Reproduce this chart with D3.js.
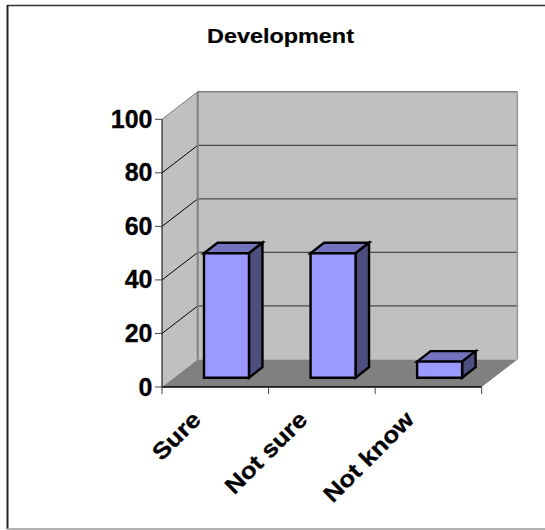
<!DOCTYPE html>
<html>
<head>
<meta charset="utf-8">
<script src="https://cdn.jsdelivr.net/npm/d3@7/dist/d3.min.js"></script>
<style>
html,body{margin:0;padding:0;background:#fff}
svg{display:block}
text{font-family:"Liberation Sans",Arial,sans-serif;font-weight:bold;fill:#000}
</style>
</head>
<body>
<svg id="chart" width="545" height="530"></svg>
<script>
const chartTitle = "Development";
const categories = ["Sure", "Not sure", "Not know"];
const values = [46.5, 46.5, 6];
const yTicks = [0, 20, 40, 60, 80, 100];

const svg = d3.select("#chart");
const frontLeft = 162, frontRight = 481.7, frontBase = 387, frontTop = 119.3;
const wallDx = 35.7, wallDy = -27.5;
const barShiftX = 11.2, barShiftY = -9.3, barDx = 13.5, barDy = -10.5;

const y = d3.scaleLinear().domain([0, 100]).range([frontBase, frontTop]);
const x = d3.scaleBand().domain(categories).range([frontLeft, frontRight])
  .paddingInner(0.578).paddingOuter(0.289);
const tickX = d3.scaleLinear().domain([0, categories.length]).range([frontLeft, frontRight]);

const poly = (pts, fill, stroke, sw) => svg.append("polygon")
  .attr("points", pts.map(p => p.join(",")).join(" "))
  .attr("fill", fill).attr("stroke", stroke || "none").attr("stroke-width", sw || 0)
  .attr("stroke-linejoin", "miter");
const line = (a, b, stroke, sw) => svg.append("line")
  .attr("x1", a[0]).attr("y1", a[1]).attr("x2", b[0]).attr("y2", b[1])
  .attr("stroke", stroke).attr("stroke-width", sw);

// Outer frame: top, left and bottom edges
line([7, 5.5], [545, 5.5], "#333", 1.5);
line([7.5, 5], [7.5, 529], "#222", 2);
line([7, 529], [545, 529], "#999", 1.5);

// Back wall, side wall and floor
poly([[frontLeft, frontBase], [frontLeft, frontTop], [frontLeft + wallDx, frontTop + wallDy], [frontLeft + wallDx, frontBase + wallDy]], "#c0c0c0");
poly([[frontLeft + wallDx, frontTop + wallDy], [frontRight + wallDx, frontTop + wallDy], [frontRight + wallDx, frontBase + wallDy], [frontLeft + wallDx, frontBase + wallDy]], "#c0c0c0");
poly([[frontLeft, frontBase], [frontRight, frontBase], [frontRight + wallDx, frontBase + wallDy], [frontLeft + wallDx, frontBase + wallDy]], "#808080");

// Gridlines across side and back walls
yTicks.filter(t => t > 0).forEach(t => {
  line([frontLeft, y(t)], [frontLeft + wallDx, y(t) + wallDy], t === 100 ? "#808080" : "#000", 1);
  line([frontLeft + wallDx, y(t) + wallDy], [frontRight + wallDx, y(t) + wallDy], t === 100 ? "#808080" : "#4d4d4d", t === 100 ? 1.5 : 1.2);
});
line([frontLeft + wallDx, frontTop + wallDy], [frontLeft + wallDx, frontBase + wallDy], "#808080", 2);
line([frontRight + wallDx, frontTop + wallDy], [frontRight + wallDx, frontBase + wallDy], "#969696", 1.5);

// Value and category axes
line([frontLeft, frontTop], [frontLeft, frontBase], "#000", 1);
line([frontLeft, frontBase], [frontRight, frontBase], "#000", 1.5);
svg.selectAll("text.ytick").data(yTicks).join("text").attr("class", "ytick")
  .attr("x", frontLeft - 9.5).attr("y", d => y(d) + 8.5)
  .attr("text-anchor", "end").attr("font-size", 25)
  .attr("stroke", "#000").attr("stroke-width", 0.3).text(d => d);
yTicks.forEach(t => line([frontLeft - 7, y(t)], [frontLeft, y(t)], "#444", 1));
d3.range(categories.length + 1).forEach(i => line([tickX(i), frontBase], [tickX(i), frontBase + 7], "#444", 1));

// Extruded columns
categories.forEach((c, i) => {
  const l = x(c) + barShiftX, r = l + x.bandwidth();
  const b = frontBase + barShiftY, t = y(values[i]) + barShiftY;
  poly([[l, t], [l + barDx, t + barDy], [r + barDx, t + barDy], [r, t]], "#7373bd", "#000", 2.4);
  poly([[r, t], [r + barDx, t + barDy], [r + barDx, b + barDy], [r, b]], "#4d4d80", "#000", 2.4);
  poly([[l, t], [r, t], [r, b], [l, b]], "#9999ff", "#000", 2.4);
});

// Slanted category labels, slightly widened along the baseline
svg.selectAll("text.xlabel").data(categories).join("text").attr("class", "xlabel")
  .attr("text-anchor", "end").attr("font-size", 23)
  .attr("stroke", "#000").attr("stroke-width", 0.3)
  .attr("transform", (d, i) => `translate(${tickX(i + 0.5) - 13},${frontBase + 34}) rotate(-45) scale(1.13,1)`)
  .text(d => d);

svg.append("text").attr("font-size", 20)
  .attr("text-anchor", "middle")
  .attr("transform", "translate(280.5,43) scale(1.17,1)")
  .attr("stroke", "#000").attr("stroke-width", 0.2)
  .text(chartTitle);
</script>
</body>
</html>
